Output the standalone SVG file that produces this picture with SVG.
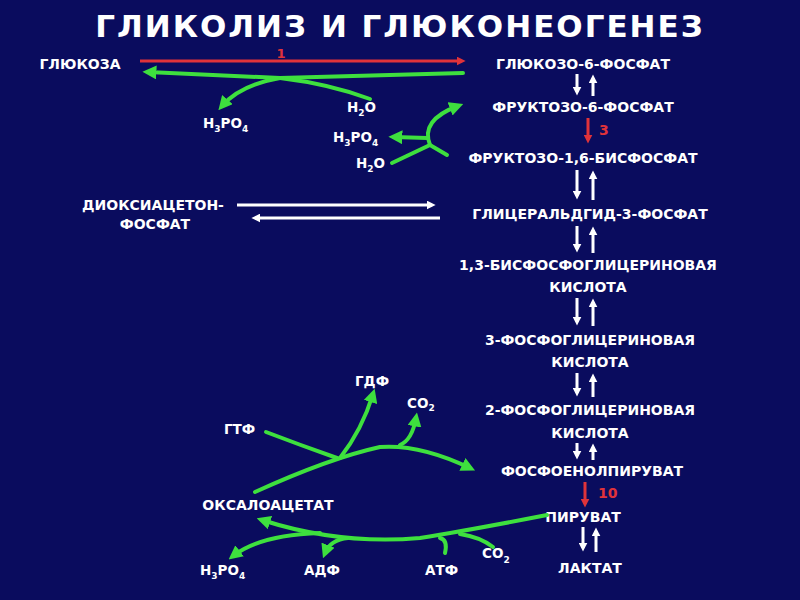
<svg xmlns="http://www.w3.org/2000/svg" width="800" height="600" viewBox="0 0 800 600">
<style>
text{font-family:"DejaVu Sans","Liberation Sans",sans-serif;fill:#fff;font-weight:bold}
.t{font-size:14px;text-anchor:middle}
.s{font-size:13.5px}
.g{fill:none;stroke:#3ee03e;stroke-width:4;stroke-linecap:round}
.w{stroke:#fff;stroke-width:3}
.r{stroke:#e0333a;stroke-width:3}
</style>
<defs>
<marker id="ga" viewBox="0 0 10 10" refX="6" refY="5" markerWidth="3.5" markerHeight="3.5" orient="auto"><path d="M0,0L10,5L0,10z" fill="#3ee03e"/></marker>
<marker id="wa" viewBox="0 0 10 10" refX="6" refY="5" markerWidth="3" markerHeight="3" orient="auto"><path d="M0,0L10,5L0,10z" fill="#fff"/></marker>
<marker id="ra" viewBox="0 0 10 10" refX="6" refY="5" markerWidth="3" markerHeight="3" orient="auto"><path d="M0,0L10,5L0,10z" fill="#e0333a"/></marker>
</defs>
<rect width="800" height="600" fill="#0a0c5e"/>
<text x="400" y="37" font-size="31" letter-spacing="2" text-anchor="middle">ГЛИКОЛИЗ И ГЛЮКОНЕОГЕНЕЗ</text>
<g id="nodes">
<g id="n1"><text class="t" x="80" y="69">ГЛЮКОЗА</text></g>
<g id="n2"><text class="t" x="583" y="69">ГЛЮКОЗО-6-ФОСФАТ</text></g>
<g id="n3"><text class="t" x="583" y="112">ФРУКТОЗО-6-ФОСФАТ</text></g>
<g id="n4"><text class="t" x="583" y="163">ФРУКТОЗО-1,6-БИСФОСФАТ</text></g>
<g id="n5"><text class="t" x="590" y="219">ГЛИЦЕРАЛЬДГИД-3-ФОСФАТ</text></g>
<g id="n6"><text class="t" x="153" y="210">ДИОКСИАЦЕТОН-</text><text class="t" x="155" y="229">ФОСФАТ</text></g>
<g id="n7"><text class="t" x="588" y="270">1,3-БИСФОСФОГЛИЦЕРИНОВАЯ</text><text class="t" x="588" y="292">КИСЛОТА</text></g>
<g id="n8"><text class="t" x="590" y="345">3-ФОСФОГЛИЦЕРИНОВАЯ</text><text class="t" x="590" y="367">КИСЛОТА</text></g>
<g id="n9"><text class="t" x="590" y="415">2-ФОСФОГЛИЦЕРИНОВАЯ</text><text class="t" x="590" y="438">КИСЛОТА</text></g>
<g id="n10"><text class="t" x="592" y="476">ФОСФОЕНОЛПИРУВАТ</text></g>
<g id="n11"><text class="t" x="583" y="522">ПИРУВАТ</text></g>
<g id="n12"><text class="t" x="590" y="573">ЛАКТАТ</text></g>
<g id="n13"><text class="t" x="268" y="510">ОКСАЛОАЦЕТАТ</text></g>
</g>
<g id="labels">
<text class="s" x="203" y="128">H<tspan font-size="9" dy="4">3</tspan><tspan dy="-4">PO</tspan><tspan font-size="9" dy="4">4</tspan></text>
<text class="s" x="347" y="112">H<tspan font-size="9" dy="4">2</tspan><tspan dy="-4">O</tspan></text>
<text class="s" x="333" y="142">H<tspan font-size="9" dy="4">3</tspan><tspan dy="-4">PO</tspan><tspan font-size="9" dy="4">4</tspan></text>
<text class="s" x="356" y="168">H<tspan font-size="9" dy="4">2</tspan><tspan dy="-4">O</tspan></text>
<text class="s" x="355" y="386">ГДФ</text>
<text class="s" x="407" y="408">CO<tspan font-size="9" dy="3">2</tspan></text>
<text class="s" x="224" y="434">ГТФ</text>
<text class="s" x="200" y="575">H<tspan font-size="9" dy="4">3</tspan><tspan dy="-4">PO</tspan><tspan font-size="9" dy="4">4</tspan></text>
<text class="s" x="304" y="575">АДФ</text>
<text class="s" x="425" y="575">АТФ</text>
<text class="s" x="482" y="558">CO<tspan font-size="9" dy="5">2</tspan></text>
<text x="281" y="58" font-size="13" text-anchor="middle" style="fill:#e0333a">1</text>
<text x="599" y="135" font-size="14" style="fill:#e0333a">3</text>
<text x="598" y="498" font-size="14" style="fill:#e0333a">10</text>
</g>
<g id="connectors">
<line class="r" x1="140" y1="61" x2="462" y2="61" marker-end="url(#ra)"/>
<line class="r" x1="588" y1="118" x2="588" y2="140" marker-end="url(#ra)"/>
<line class="r" x1="585" y1="482" x2="585" y2="504" marker-end="url(#ra)"/>
<g class="w">
<line x1="577" y1="74" x2="577" y2="92" marker-end="url(#wa)"/><line x1="593" y1="96" x2="593" y2="78" marker-end="url(#wa)"/>
<line x1="577" y1="170" x2="577" y2="196" marker-end="url(#wa)"/><line x1="593" y1="200" x2="593" y2="174" marker-end="url(#wa)"/>
<line x1="577" y1="226" x2="577" y2="249" marker-end="url(#wa)"/><line x1="593" y1="253" x2="593" y2="230" marker-end="url(#wa)"/>
<line x1="577" y1="298" x2="577" y2="322" marker-end="url(#wa)"/><line x1="593" y1="326" x2="593" y2="302" marker-end="url(#wa)"/>
<line x1="577" y1="373" x2="577" y2="393" marker-end="url(#wa)"/><line x1="593" y1="397" x2="593" y2="377" marker-end="url(#wa)"/>
<line x1="577" y1="443" x2="577" y2="456" marker-end="url(#wa)"/><line x1="593" y1="460" x2="593" y2="447" marker-end="url(#wa)"/>
<line x1="583" y1="527" x2="583" y2="548" marker-end="url(#wa)"/><line x1="596" y1="552" x2="596" y2="531" marker-end="url(#wa)"/>
<line x1="237" y1="205" x2="432" y2="205" marker-end="url(#wa)"/>
<line x1="440" y1="218" x2="255" y2="218" marker-end="url(#wa)"/>
</g>
<path class="g" d="M463,73 L280,78 L148,72" marker-end="url(#ga)"/>
<path class="g" d="M280,78 Q240,85 222,106" marker-end="url(#ga)"/>
<path class="g" d="M370,99 Q330,84 280,78"/>
<path class="g" d="M392,163 L430,145 L447,155"/>
<path class="g" d="M430,145 Q420,120 458,106" marker-end="url(#ga)"/>
<path class="g" d="M427,138 L394,137" marker-end="url(#ga)"/>
<path class="g" d="M255,492 Q330,458 380,447 Q420,444 470,468" marker-end="url(#ga)"/>
<path class="g" d="M266,432 Q300,445 337,458"/>
<path class="g" d="M340,458 Q362,430 373,394" marker-end="url(#ga)"/>
<path class="g" d="M400,445 Q412,440 416,418" marker-end="url(#ga)"/>
<path class="g" d="M547,515 Q470,530 420,538 Q340,545 262,520" marker-end="url(#ga)"/>
<path class="g" d="M320,533 Q260,535 233,556" marker-end="url(#ga)"/>
<path class="g" d="M348,538 Q330,540 325,553" marker-end="url(#ga)"/>
<path class="g" d="M445,553 Q448,540 440,538"/>
<path class="g" d="M493,547 Q480,537 460,534"/>
</g>
</svg>
